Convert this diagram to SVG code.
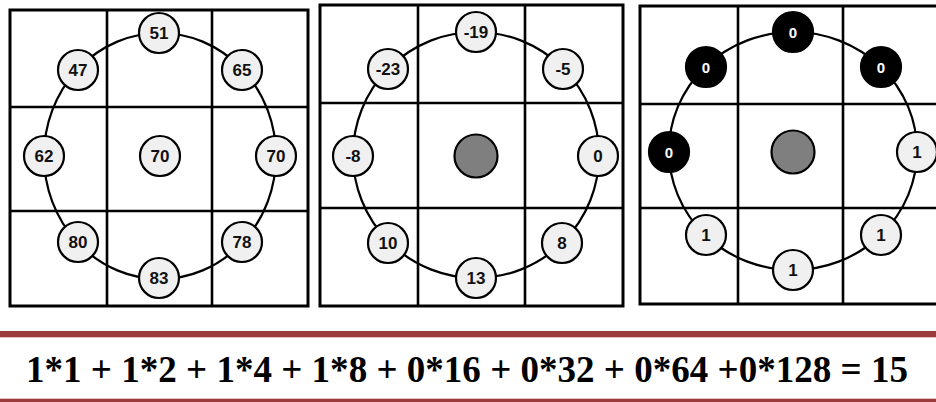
<svg xmlns="http://www.w3.org/2000/svg" width="936" height="402" viewBox="0 0 936 402">
<style>
.grid{fill:none;stroke:#000;stroke-width:3}
.gl{stroke:#000;stroke-width:2.6}
.ring{fill:none;stroke:#000;stroke-width:2.2}
.n{fill:#f0f0f0;stroke:#000;stroke-width:2.2}
.b{fill:#000;stroke:#000;stroke-width:2.2}
.g{fill:#7f7f7f;stroke:#000;stroke-width:2.2}
.t{font-family:"Liberation Sans",Arial,sans-serif;font-weight:bold;font-size:17px;fill:#111;text-anchor:middle;dominant-baseline:central}
.tw{font-family:"Liberation Sans",Arial,sans-serif;font-weight:bold;font-size:15px;fill:#fff;text-anchor:middle;dominant-baseline:central}
.eq{font-family:"Liberation Serif","Times New Roman",serif;font-weight:bold;font-size:38px;fill:#000}
</style>
<rect width="936" height="402" fill="#fff"/>
<g id="grids">
<rect class="grid" x="10" y="10" width="298" height="296"/>
<line class="gl" x1="107" y1="10" x2="107" y2="306"/>
<line class="gl" x1="212" y1="10" x2="212" y2="306"/>
<line class="gl" x1="10" y1="107" x2="308" y2="107"/>
<line class="gl" x1="10" y1="211" x2="308" y2="211"/>
<rect class="grid" x="320" y="5" width="303" height="301"/>
<line class="gl" x1="418" y1="5" x2="418" y2="306"/>
<line class="gl" x1="525" y1="5" x2="525" y2="306"/>
<line class="gl" x1="320" y1="103" x2="623" y2="103"/>
<line class="gl" x1="320" y1="208" x2="623" y2="208"/>
<rect class="grid" x="640" y="6" width="310" height="298"/>
<line class="gl" x1="738" y1="6" x2="738" y2="304"/>
<line class="gl" x1="843" y1="6" x2="843" y2="304"/>
<line class="gl" x1="640" y1="104" x2="936" y2="104"/>
<line class="gl" x1="640" y1="208" x2="936" y2="208"/>
</g>
<g id="connectors">
<ellipse class="ring" cx="160" cy="156" rx="116" ry="123"/>
<ellipse class="ring" cx="476" cy="155" rx="123" ry="123"/>
<ellipse class="ring" cx="793" cy="151" rx="124" ry="119"/>
</g>
<g id="p1-top"><circle class="n" cx="159" cy="33" r="20"/><text class="t" x="159" y="33">51</text></g>
<g id="p1-tl"><circle class="n" cx="78" cy="70" r="20"/><text class="t" x="78" y="70">47</text></g>
<g id="p1-tr"><circle class="n" cx="242" cy="70" r="20"/><text class="t" x="242" y="70">65</text></g>
<g id="p1-l"><circle class="n" cx="44" cy="156" r="20"/><text class="t" x="44" y="156">62</text></g>
<g id="p1-c"><circle class="n" cx="160" cy="156" r="20"/><text class="t" x="160" y="156">70</text></g>
<g id="p1-r"><circle class="n" cx="276" cy="156" r="20"/><text class="t" x="276" y="156">70</text></g>
<g id="p1-bl"><circle class="n" cx="78" cy="242" r="20"/><text class="t" x="78" y="242">80</text></g>
<g id="p1-br"><circle class="n" cx="242" cy="242" r="20"/><text class="t" x="242" y="242">78</text></g>
<g id="p1-b"><circle class="n" cx="159" cy="278" r="20"/><text class="t" x="159" y="278">83</text></g>

<g id="p2-top"><circle class="n" cx="476" cy="32" r="20"/><text class="t" x="476" y="32">-19</text></g>
<g id="p2-tl"><circle class="n" cx="388" cy="69" r="20"/><text class="t" x="388" y="69">-23</text></g>
<g id="p2-tr"><circle class="n" cx="563" cy="69" r="20"/><text class="t" x="563" y="69">-5</text></g>
<g id="p2-l"><circle class="n" cx="353" cy="156" r="20"/><text class="t" x="353" y="156">-8</text></g>
<g id="p2-c"><circle class="g" cx="476" cy="156" r="21.5"/></g>
<g id="p2-r"><circle class="n" cx="598" cy="156" r="20"/><text class="t" x="598" y="156">0</text></g>
<g id="p2-bl"><circle class="n" cx="388" cy="243" r="20"/><text class="t" x="388" y="243">10</text></g>
<g id="p2-br"><circle class="n" cx="562" cy="243" r="20"/><text class="t" x="562" y="243">8</text></g>
<g id="p2-b"><circle class="n" cx="476" cy="278" r="20"/><text class="t" x="476" y="278">13</text></g>

<g id="p3-top"><circle class="b" cx="793" cy="32" r="20"/><text class="tw" x="793" y="32">0</text></g>
<g id="p3-tl"><circle class="b" cx="706" cy="67" r="20"/><text class="tw" x="706" y="67">0</text></g>
<g id="p3-tr"><circle class="b" cx="881" cy="67" r="20"/><text class="tw" x="881" y="67">0</text></g>
<g id="p3-l"><circle class="b" cx="669" cy="152" r="20"/><text class="tw" x="669" y="152">0</text></g>
<g id="p3-c"><circle class="g" cx="793" cy="152" r="21.5"/></g>
<g id="p3-r"><circle class="n" cx="917" cy="152" r="20"/><text class="t" x="917" y="152">1</text></g>
<g id="p3-bl"><circle class="n" cx="706" cy="235" r="20"/><text class="t" x="706" y="235">1</text></g>
<g id="p3-br"><circle class="n" cx="881" cy="235" r="20"/><text class="t" x="881" y="235">1</text></g>
<g id="p3-b"><circle class="n" cx="793" cy="270" r="20"/><text class="t" x="793" y="270">1</text></g>

<g id="formula">
<rect x="0" y="331" width="936" height="6" fill="#9b3b3b"/>
<rect x="0" y="337" width="936" height="1" fill="#e6c2c2"/>
<rect x="0" y="398" width="936" height="1" fill="#e6c2c2"/>
<rect x="0" y="399" width="936" height="3" fill="#9b3b3b"/>
<text class="eq" x="26" y="382" textLength="882" lengthAdjust="spacingAndGlyphs">1*1 + 1*2 + 1*4 + 1*8 + 0*16 + 0*32 + 0*64 +0*128 = 15</text>
</g>
</svg>
